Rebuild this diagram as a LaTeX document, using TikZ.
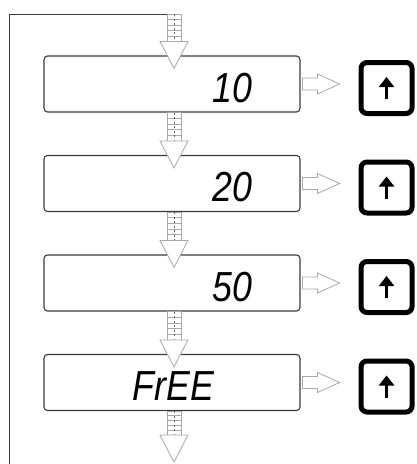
\documentclass[tikz,border=0pt]{standalone}
\usepackage{graphicx}
\usepackage{fontspec}
\newfontfamily\lcdfont{Liberation Sans}
\usetikzlibrary{calc, positioning}
\usetikzlibrary{arrows.meta}

\definecolor{framegray}{HTML}{3A3A3A}
\definecolor{flowgray}{HTML}{A8A8A8}

\newcommand{\lcd}[1]{\scalebox{0.85}[1]{\lcdfont\itshape #1}}

\tikzset{
  display/.style={draw=framegray, line width=1.1pt, rounded corners=3.5pt,
    minimum width=256pt, minimum height=56pt, inner sep=0pt},
  readout/.style={inner sep=0pt, font=\fontsize{42}{42}\selectfont},
  key/.style={draw=black, line width=5pt, rounded corners=6pt,
    minimum size=51pt, inner sep=0pt},
  keyarrow/.style={draw=black, line width=3.6pt,
    -{Triangle[width=15pt,length=10pt]}},
  loopline/.style={draw=framegray, line width=1pt},
  hollow/.style={draw=flowgray, line width=0.8pt, fill=white},
  rung/.style={draw=flowgray, line width=0.8pt},
  core/.style={draw=black!60, line width=1pt, dash pattern=on 2pt off 2.5pt}
}

\newcommand{\downflow}[2]{%
  \coordinate (hd) at ($(#2)+(0,-27)$);
  \draw[rung] ($(#1)+(-7,0)$) rectangle ($(hd)+(7,0)$);
  \foreach \f in {0.2,0.4,0.6,0.8}
    \draw[rung] ($(#1)!\f!(hd)+(-7,0)$) -- ($(#1)!\f!(hd)+(7,0)$);
  \draw[core] (#1) -- (hd);
  \draw[hollow] ($(hd)+(-14,0)$) -- (#2) -- ($(hd)+(14,0)$) -- cycle;
}

\newcommand{\sideflow}[1]{%
  \draw[hollow] ($(#1)+(2,-6)$) -- ++(15,0) -- ++(0,-4) -- ++(22,10)
    -- ++(-22,10) -- ++(0,-4) -- ++(-15,0) -- cycle;
}

\begin{document}
\begin{tikzpicture}[x=1pt,y=-1pt]
\useasboundingbox (0,0) rectangle (417,464);
\def\rowgap{99.5}
\coordinate (top) at (174,14);
\coordinate (corner) at (9,14);
\coordinate (loopend) at (9,464);
\coordinate (out) at (174,462);

\draw[loopline] (top) -- (corner) -- (loopend);

\foreach \i in {1,...,4}{
  \node[display] (d\i) at (172,{84+(\i-1)*\rowgap}) {};
  \node[key, right=58pt of d\i.east, yshift=-4pt] (k\i) {};
  \coordinate (kb\i) at ($(k\i.center)+(0,11)$);
  \coordinate (kt\i) at ($(k\i.center)+(0,-11)$);
  \draw[keyarrow] (kb\i) -- (kt\i);
  \sideflow{d\i.east}
}

\foreach \i/\val in {1/10,2/20,3/50}{
  \node[readout, anchor=base east] (v\i) at ($(d\i.north west)+(209,47)$) {\lcd{\val}};
}
\node[readout, anchor=base west] (v4) at ($(d4.north west)+(89,47)$) {\lcd{FrEE}};

\downflow{top}{$(d1.north -| top)+(0,13)$}
\foreach \i [evaluate=\i as \j using int(\i+1)] in {1,2,3}{
  \downflow{$(d\i.south -| top)$}{$(d\j.north -| top)+(0,13)$}
}
\downflow{$(d4.south -| top)$}{out}
\end{tikzpicture}
\end{document}
